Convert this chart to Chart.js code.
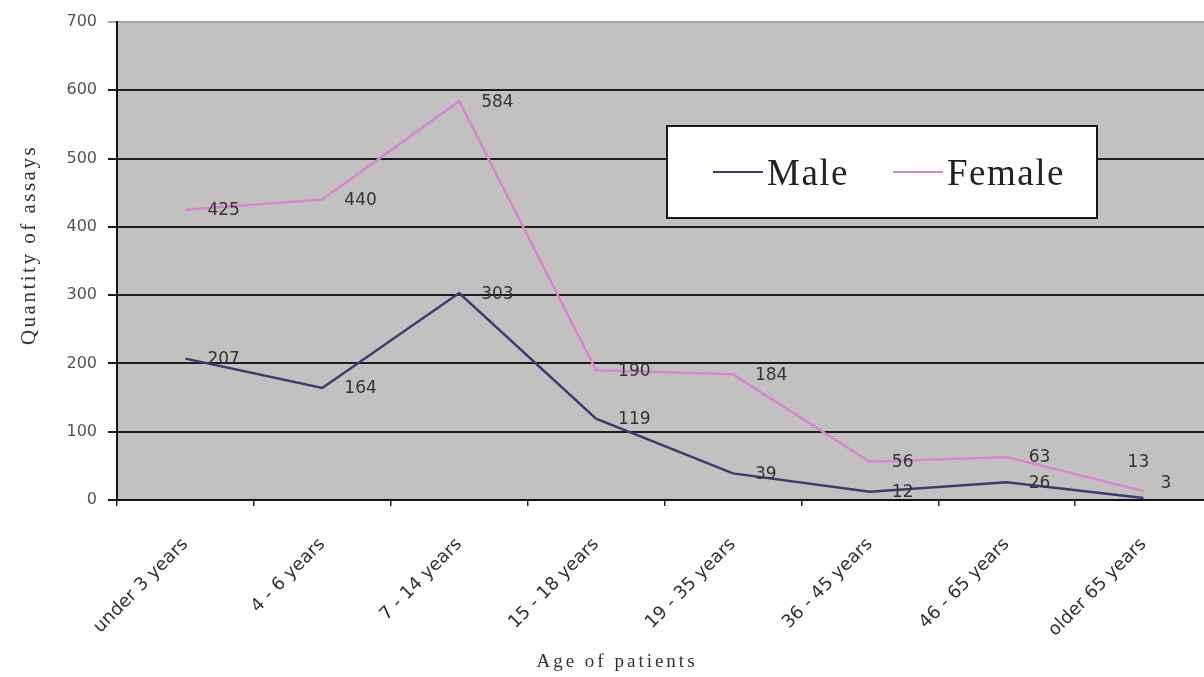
<!DOCTYPE html>
<html>
<head>
<meta charset="utf-8">
<title>Quantity of assays by age of patients</title>
<script src="https://cdn.jsdelivr.net/npm/chart.js@4/dist/chart.umd.min.js"></script>
<style>
  html, body { margin: 0; padding: 0; background: #ffffff; overflow: hidden; }
  #wrap { width: 1213px; height: 677px; }
</style>
</head>
<body>
<div id="wrap"><canvas id="chart" width="1213" height="677"></canvas></div>
<script>
// Age groups on the category axis
const ageGroups = ['under 3 years', '4 - 6 years', '7 - 14 years', '15 - 18 years',
                   '19 - 35 years', '36 - 45 years', '46 - 65 years', 'older 65 years'];

// Number of assays per age group
const maleCounts   = [207, 164, 303, 119, 39, 12, 26, 3];
const femaleCounts = [425, 440, 584, 190, 184, 56, 63, 13];

// Value axis
const yTicks = [0, 100, 200, 300, 400, 500, 600, 700];

const seriesNames = ['Male', 'Female'];
const seriesColors = ['#3b3b72', '#d886d4'];

const sansFont = "'DejaVu Sans', 'Liberation Sans', Arial, sans-serif";
const serifFont = "'Liberation Serif', 'Times New Roman', serif";

// Value labels sit to the right of each point; a few are nudged to avoid overlap
const labelShift = { dx: 22, dy: 1 };
const labelNudges = {
  '0-7': { dx: 17, dy: -14 },
  '1-7': { dx: -16, dy: -29 }
};

const plotBackground = {
  id: 'plotBackground',
  beforeDraw(chart) {
    const { ctx, chartArea: a } = chart;
    ctx.save();
    ctx.fillStyle = '#c2c1bf';
    ctx.fillRect(a.left, a.top, a.right - a.left, a.bottom - a.top);
    ctx.restore();
  }
};

const valueLabels = {
  id: 'valueLabels',
  afterDatasetsDraw(chart) {
    const ctx = chart.ctx;
    ctx.save();
    ctx.font = '17px ' + sansFont;
    ctx.fillStyle = '#333333';
    ctx.textAlign = 'left';
    ctx.textBaseline = 'middle';
    chart.data.datasets.forEach((ds, di) => {
      const meta = chart.getDatasetMeta(di);
      meta.data.forEach((pt, i) => {
        const n = labelNudges[di + '-' + i] || labelShift;
        ctx.fillText(String(ds.data[i]), pt.x + n.dx, pt.y + n.dy);
      });
    });
    ctx.restore();
  }
};

const boxLegend = {
  id: 'boxLegend',
  afterDraw(chart) {
    const ctx = chart.ctx;
    const box = { x: 667, y: 126, w: 430, h: 92 };
    ctx.save();
    ctx.fillStyle = '#ffffff';
    ctx.fillRect(box.x, box.y, box.w, box.h);
    ctx.strokeStyle = '#1a1a1a';
    ctx.lineWidth = 2;
    ctx.strokeRect(box.x, box.y, box.w, box.h);
    ctx.font = '37px ' + serifFont;
    ctx.letterSpacing = '1.5px';
    ctx.textAlign = 'left';
    ctx.textBaseline = 'alphabetic';
    const starts = [713, 893];
    chart.data.datasets.forEach((ds, i) => {
      const x0 = starts[i];
      ctx.strokeStyle = ds.borderColor;
      ctx.lineWidth = 2;
      ctx.beginPath();
      ctx.moveTo(x0, 172);
      ctx.lineTo(x0 + 50, 172);
      ctx.stroke();
      ctx.fillStyle = '#222222';
      ctx.fillText(ds.label, x0 + 54, 185);
    });
    ctx.restore();
  }
};

const axisTitles = {
  id: 'axisTitles',
  afterDraw(chart) {
    const ctx = chart.ctx;
    ctx.save();
    ctx.fillStyle = '#333333';
    ctx.textAlign = 'center';
    ctx.textBaseline = 'middle';
    ctx.font = '19px ' + serifFont;
    ctx.letterSpacing = '3px';
    ctx.fillText('Age of patients', 617, 662);
    ctx.translate(29, 245);
    ctx.rotate(-Math.PI / 2);
    ctx.font = '21px ' + serifFont;
    ctx.letterSpacing = '2.5px';
    ctx.fillText('Quantity of assays', 0, 0);
    ctx.restore();
  }
};

new Chart(document.getElementById('chart'), {
  type: 'line',
  data: {
    labels: ageGroups,
    datasets: [
      { label: seriesNames[0], data: maleCounts, borderColor: seriesColors[0],
        backgroundColor: seriesColors[0], borderWidth: 2.5, pointRadius: 0, tension: 0, fill: false },
      { label: seriesNames[1], data: femaleCounts, borderColor: seriesColors[1],
        backgroundColor: seriesColors[1], borderWidth: 2.5, pointRadius: 0, tension: 0, fill: false }
    ]
  },
  options: {
    responsive: false,
    animation: false,
    events: [],
    layout: { padding: { top: 22, left: 0, right: 1, bottom: 0 } },
    plugins: {
      legend: { display: false },
      tooltip: { enabled: false },
      title: { display: false }
    },
    scales: {
      x: {
        type: 'category',
        offset: true,
        afterFit(scale) { scale.height = 177; },
        grid: { offset: true, drawOnChartArea: false, drawTicks: true, tickLength: 6,
                color: '#222222', lineWidth: 1.5 },
        border: { display: true, color: '#111111', width: 2 },
        ticks: {
          minRotation: 45, maxRotation: 45, autoSkip: false, padding: 28,
          color: '#333333', font: { family: sansFont, size: 18 }
        }
      },
      y: {
        min: yTicks[0],
        max: yTicks[yTicks.length - 1],
        afterFit(scale) { scale.width = 117; },
        afterBuildTicks(scale) { scale.ticks = yTicks.map(v => ({ value: v })); },
        grid: {
          color: ctx => (ctx.tick && ctx.tick.value === yTicks[yTicks.length - 1]) ? '#a9a8a6' : '#1c1c1c',
          lineWidth: 2, drawTicks: true, tickLength: 9
        },
        border: { display: true, color: '#111111', width: 2 },
        ticks: {
          padding: 11, color: '#555555',
          font: { family: sansFont, size: 16 }
        }
      }
    }
  },
  plugins: [plotBackground, valueLabels, boxLegend, axisTitles]
});
</script>
</body>
</html>
